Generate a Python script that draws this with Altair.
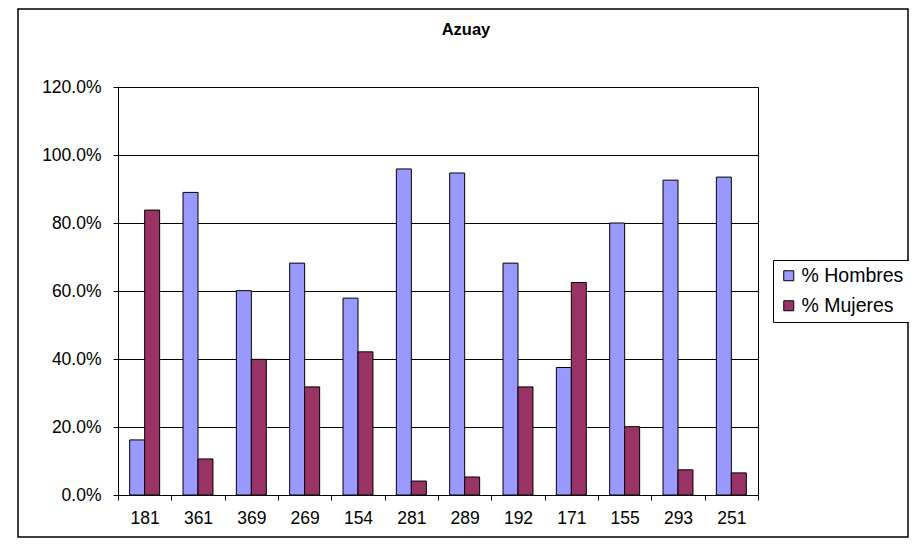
import altair as alt
import pandas as pd

categories = ["181", "361", "369", "269", "154", "281", "289", "192", "171", "155", "293", "251"]
hombres = [0.162, 0.890, 0.601, 0.682, 0.579, 0.959, 0.947, 0.682, 0.375, 0.800, 0.926, 0.935]
mujeres = [0.838, 0.106, 0.399, 0.318, 0.421, 0.041, 0.053, 0.318, 0.625, 0.201, 0.074, 0.065]
series = ["% Hombres", "% Mujeres"]
colors = ["#9999FF", "#993366"]
y_ticks = [0.0, 0.2, 0.4, 0.6, 0.8, 1.0, 1.2]

rows = []
for c, h, m in zip(categories, hombres, mujeres):
    rows.append({"cat": c, "serie": series[0], "val": h})
    rows.append({"cat": c, "serie": series[1], "val": m})
df = pd.DataFrame(rows)

FONT = "Liberation Sans"
W, H = 640, 408

bars = alt.Chart(df).mark_bar(stroke="#000000", strokeWidth=1).encode(
    x=alt.X("cat:N", sort=categories,
            scale=alt.Scale(paddingInner=0, paddingOuter=0),
            axis=alt.Axis(title=None, labelAngle=0, tickBand="extent", tickSize=5,
                          labelPadding=9.5, labelFontSize=17.5, labelFont=FONT,
                          labelColor="#000000", domainColor="#000000", tickColor="#000000",
                          grid=False)),
    xOffset=alt.XOffset("serie:N", sort=series,
                        scale=alt.Scale(paddingInner=0, paddingOuter=0.78)),
    y=alt.Y("val:Q", scale=alt.Scale(domain=[0, 1.2], nice=False),
            axis=alt.Axis(title=None, values=y_ticks, format=".1%", tickSize=5,
                          labelPadding=12, labelFontSize=17.5, labelFont=FONT,
                          labelColor="#000000", domainColor="#000000", tickColor="#000000",
                          grid=True, gridColor="#000000", gridWidth=1)),
    color=alt.Color("serie:N", sort=series,
                    scale=alt.Scale(domain=series, range=colors),
                    legend=alt.Legend(title=None, orient="none", legendX=655, legendY=173,
                                      symbolType="square", symbolSize=100,
                                      symbolStrokeColor="#000000", symbolStrokeWidth=1,
                                      labelFontSize=19.5, labelFont=FONT, labelColor="#000000",
                                      labelOffset=3, rowPadding=9, padding=6,
                                      strokeColor="#000000", fillColor="#FFFFFF")),
)

frame = alt.Chart(alt.Data(values=[{}])).mark_rect(
    fill=None, stroke="#000000", strokeWidth=1.5
).encode(
    x=alt.value(-100), x2=alt.value(790),
    y=alt.value(-78), y2=alt.value(450),
)

chart = alt.layer(frame, bars).properties(
    width=W, height=H,
    title=alt.TitleParams("Azuay", font=FONT, fontSize=16.5, fontWeight="bold",
                          color="#000000", anchor="middle", dx=28, offset=-43,
                          baseline="alphabetic"),
    autosize=alt.AutoSizeParams(type="none"),
    padding={"left": 110, "top": 79, "right": 151, "bottom": 43},
).configure_view(stroke="#000000", strokeWidth=1)

chart.save("out.html", embed_options={"renderer": "svg", "actions": False})
